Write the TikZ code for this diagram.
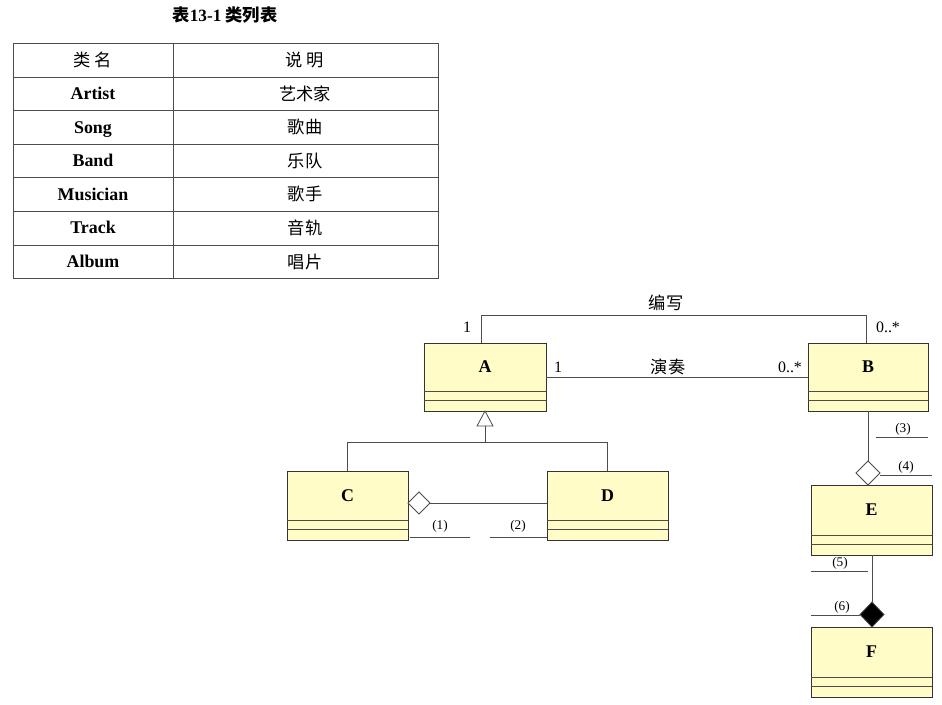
\documentclass[tikz,border=0pt]{standalone}
\usepackage{fontspec}
\setmainfont{Liberation Serif}
\newfontfamily\cjk{Noto Sans CJK SC}
\begin{document}
\begin{tikzpicture}[x=0.0265cm,y=-0.0265cm,
  cls/.style={draw=black!80,fill=yellow!22!white,line width=0.6pt},
  ln/.style={draw=black!70,line width=0.6pt},
  tx/.style={font=\fontsize{13.5}{15}\selectfont\bfseries,inner sep=0pt,text height=9pt,text depth=0pt},
  sm/.style={font=\fontsize{10}{12}\selectfont,inner sep=0pt},
  ct/.style={font=\fontsize{13}{15}\selectfont\cjk,inner sep=0pt}]
\useasboundingbox[fill=white] (0,0) rectangle (942,704);
% title
\node[font=\fontsize{13}{15}\selectfont\bfseries] (title) at (225,15) {\cjk 表\rmfamily 13-1 \cjk 类列表};
% table
\draw[ln] (13,43) rectangle (438,278);
\foreach \y in {77,110,144,177,211,245} \draw[ln] (13,\y) -- (438,\y);
\draw[ln] (173,43) -- (173,278);
\node[ct] (h1) at (93,60) {类 名};
\node[ct] (h2) at (305,60) {说 明};
\foreach \n/\c [count=\i] in {Artist/艺术家,Song/歌曲,Band/乐队,Musician/歌手,Track/音轨,Album/唱片}{
  \node[tx] (n\i) at (93,60+33.6*\i) {\n};
  \node[ct] (c\i) at (305,60+33.6*\i) {\c};
}
% classes
\newcommand\mkclass[5]{%
  \draw[cls] (#1,#2) rectangle (#3,#4);
  \draw[ln] (#1,#4-20) -- (#3,#4-20);
  \draw[ln] (#1,#4-11) -- (#3,#4-11);
  \node[tx] (#5) at ({(#1+#3)/2},{(#2+#4-20)/2}) {#5};
  \coordinate (#5t) at ({(#1+#3)/2},#2);
}
\mkclass{424}{343}{546}{411}{A}
\mkclass{808}{343}{928}{411}{B}
\mkclass{287}{471}{408}{540}{C}
\mkclass{547}{471}{668}{540}{D}
\mkclass{811}{485}{932}{555}{E}
\mkclass{811}{627}{932}{697}{F}
% 编写
\coordinate (p1) at (481,343);
\coordinate (p2) at (866,343);
\draw[ln] (p1) -- (481,315) -- (866,315) -- (p2);
\node[ct] (l1) at (666,303) {编写};
\node[sm,font=\fontsize{12}{13}\selectfont] (m1) at (467,327) {1};
\node[sm,font=\fontsize{12}{13}\selectfont] (m2) at (888,327) {0..*};
% 演奏
\coordinate (q1) at (546,377);
\coordinate (q2) at (808,377);
\draw[ln] (q1) -- (q2);
\node[ct] (l2) at (668,367) {演奏};
\node[sm,font=\fontsize{12}{13}\selectfont] (m3) at (558,367) {1};
\node[sm,font=\fontsize{12}{13}\selectfont] (m4) at (790,367) {0..*};
% generalization
\coordinate (g0) at (485,411);
\draw[ln,fill=white] (g0) -- (477,426) -- (493,426) -- cycle;
\draw[ln] (485,426) -- (485,442);
\draw[ln] (347,442) -- (607,442);
\draw[ln] (347,442) -- (347,471);
\draw[ln] (607,442) -- (607,471);
% C-D aggregation
\draw[ln,fill=white] (408,503) -- (419,492) -- (430,503) -- (419,514) -- cycle;
\draw[ln] (430,503) -- (547,503);
\node[sm] (k1) at (440,526) {(1)};
\draw[ln] (410,537) -- (470,537);
\node[sm] (k2) at (518,526) {(2)};
\draw[ln] (490,537) -- (547,537);
% B-E
\draw[ln] (868,411) -- (868,461);
\draw[ln,fill=white] (868,461) -- (880,473) -- (868,485) -- (856,473) -- cycle;
\node[sm] (k3) at (903,429) {(3)};
\draw[ln] (876,437) -- (928,437);
\node[sm] (k4) at (906,467) {(4)};
\draw[ln] (880,475) -- (932,475);
% E-F
\draw[ln] (872,555) -- (872,602);
\draw[ln,fill=black] (872,602) -- (884,614.5) -- (872,627) -- (860,614.5) -- cycle;
\node[sm] (k5) at (840,563) {(5)};
\draw[ln] (811,571) -- (868,571);
\node[sm] (k6) at (842,607) {(6)};
\draw[ln] (811,615) -- (860,615);
\end{tikzpicture}
\end{document}
